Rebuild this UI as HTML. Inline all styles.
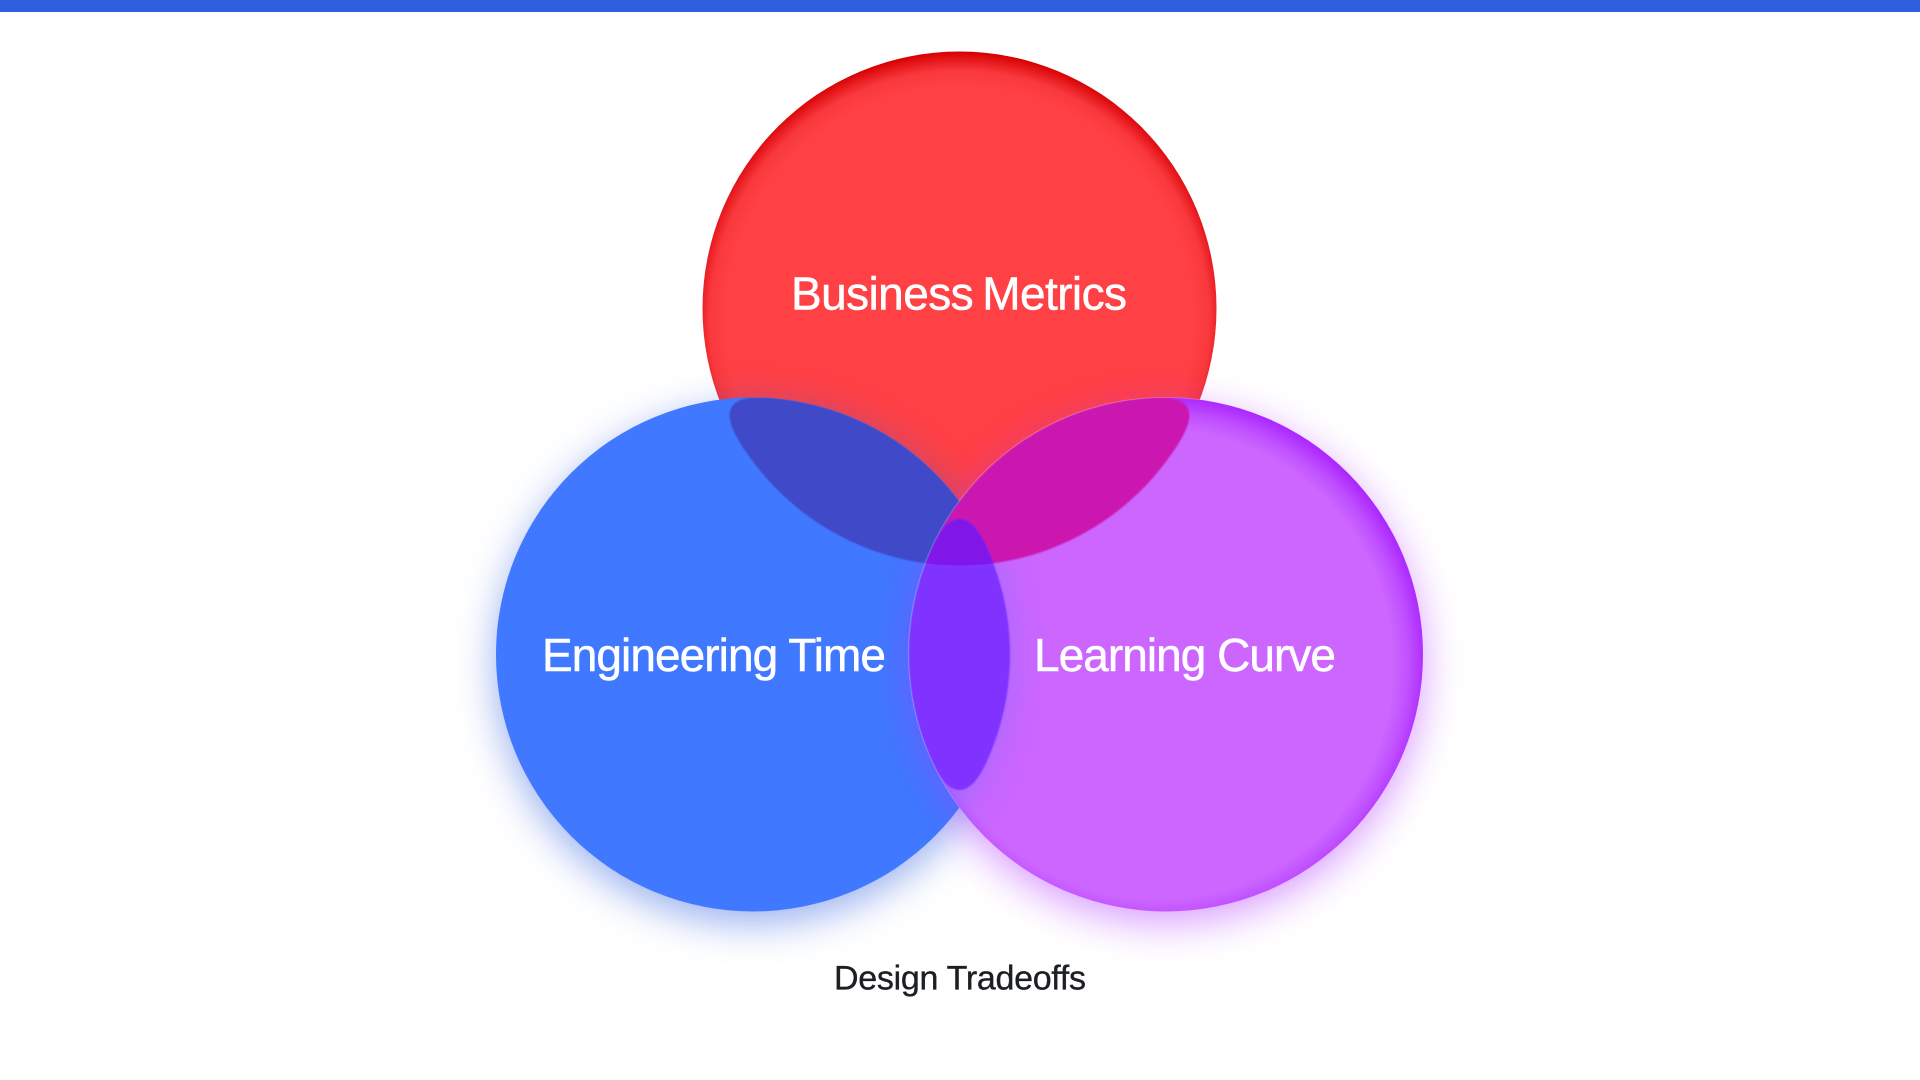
<!DOCTYPE html>
<html lang="en">
<head>
<meta charset="utf-8">
<title>Design Tradeoffs</title>
<style>
html,body{margin:0;padding:0;background:#fff;width:1920px;height:1080px;overflow:hidden}
svg{display:block;position:absolute;left:0;top:0}
text{font-family:"Liberation Sans",sans-serif}
</style>
</head>
<body>
<svg width="1920" height="1080" viewBox="0 0 1920 1080" xmlns="http://www.w3.org/2000/svg">
<defs>
  <radialGradient id="gr" gradientUnits="userSpaceOnUse" cx="959.5" cy="320.5" r="269">
    <stop offset="0" stop-color="#ff4045"/>
    <stop offset="0.87" stop-color="#ff4045"/>
    <stop offset="0.93" stop-color="#f8383c"/>
    <stop offset="0.97" stop-color="#e6181c"/>
    <stop offset="1" stop-color="#d40000"/>
  </radialGradient>
  <radialGradient id="gp" gradientUnits="userSpaceOnUse" cx="1158" cy="664.5" r="272">
    <stop offset="0" stop-color="#cc66ff"/>
    <stop offset="0.864" stop-color="#cc66ff"/>
    <stop offset="0.922" stop-color="#c050ff"/>
    <stop offset="1" stop-color="#a820ff"/>
  </radialGradient>
  <filter id="b18" filterUnits="userSpaceOnUse" x="300" y="200" width="1320" height="880">
    <feGaussianBlur stdDeviation="20"/>
  </filter>
  <filter id="s1" filterUnits="userSpaceOnUse" x="300" y="200" width="1320" height="880">
    <feGaussianBlur stdDeviation="0.8"/>
  </filter>
  <clipPath id="cr"><circle cx="959.5" cy="308.5" r="257"/></clipPath>
  <clipPath id="cb"><circle cx="753" cy="654.5" r="257"/></clipPath>
  <clipPath id="cp"><circle cx="1166" cy="654.5" r="257"/></clipPath>
</defs>

<rect x="0" y="0" width="1920" height="12" fill="#2f5ee0"/>

<!-- red circle -->
<circle cx="959.5" cy="308.5" r="257" fill="url(#gr)"/>

<!-- glows on white and red -->
<circle cx="753" cy="666" r="257" fill="#3060e0" opacity="0.5" filter="url(#b18)"/>
<circle cx="1166" cy="666" r="257" fill="#b030ff" opacity="0.48" filter="url(#b18)"/>

<!-- blue circle -->
<circle cx="753" cy="654.5" r="257" fill="#4078ff"/>
<g clip-path="url(#cb)">
  <circle cx="1166" cy="660" r="257" fill="#b030ff" opacity="0.42" filter="url(#b18)"/>
</g>

<!-- blue / red lens -->
<g clip-path="url(#cb)">
  <path d="M731.7 407.2C739.4 394.3 767.3 396.4 794.85 400.95A257 257 0 0 1 956.3 497.3C973.4 519.4 988.4 542.9 980.75 555.8C973.1 568.7 945.2 566.6 917.65 562.05A257 257 0 0 1 756.2 465.7C739.1 443.6 724 420.1 731.7 407.2Z" fill="#4048c8" filter="url(#s1)"/>
</g>

<!-- purple circle -->
<circle cx="1166" cy="654.5" r="257" fill="url(#gp)"/>
<g clip-path="url(#cp)">
  <circle cx="753" cy="654.5" r="257" fill="#4078ff" opacity="0.3" filter="url(#b18)"/>
</g>

<!-- red / purple lens, blue / purple lens, centre overlap -->
<g clip-path="url(#cp)">
  <path d="M1187.3 407.2C1179.6 394.3 1151.7 396.4 1124.15 400.95A257 257 0 0 0 962.7 497.3C945.6 519.4 930.6 542.9 938.25 555.8C945.9 568.7 973.8 566.6 1001.35 562.05A257 257 0 0 0 1162.8 465.7C1179.9 443.6 1195 420.1 1187.3 407.2Z" fill="#cc18b0" filter="url(#s1)"/>
  <path d="M959.5 519C975 519 986.5 543.6 995.7 570A257 257 0 0 1 995.7 739C986.5 765.4 975 790 959.5 790C944 790 932.5 765.4 923.3 739A257 257 0 0 1 923.3 570C932.5 543.6 944 519 959.5 519Z" fill="#8030ff" filter="url(#s1)"/>
  <g clip-path="url(#cr)">
    <path d="M959.5 519C975 519 986.5 543.6 995.7 570A257 257 0 0 1 995.7 739C986.5 765.4 975 790 959.5 790C944 790 932.5 765.4 923.3 739A257 257 0 0 1 923.3 570C932.5 543.6 944 519 959.5 519Z" fill="#8018e8" filter="url(#s1)"/>
  </g>
</g>

<!-- fine highlight along the purple circle's inner edge -->
<path d="M1200 399.8A256.5 256.5 0 0 0 959.5 807.5" fill="none" stroke="#ffffff" stroke-opacity="0.22" stroke-width="1"/>

<text x="791" y="309.5" font-size="46" fill="#ffffff" stroke="#ffffff" stroke-width="0.5" textLength="336" lengthAdjust="spacing" word-spacing="-3">Business Metrics</text>
<text x="542" y="671" font-size="46" fill="#ffffff" stroke="#ffffff" stroke-width="0.5" textLength="344" lengthAdjust="spacing">Engineering Time</text>
<text x="1034" y="671" font-size="46" fill="#ffffff" stroke="#ffffff" stroke-width="0.5" textLength="302" lengthAdjust="spacing">Learning Curve</text>
<text x="834" y="989.5" font-size="34" fill="#1c1f23" stroke="#1c1f23" stroke-width="0.35" textLength="252" lengthAdjust="spacing">Design Tradeoffs</text>
</svg>
</body>
</html>
